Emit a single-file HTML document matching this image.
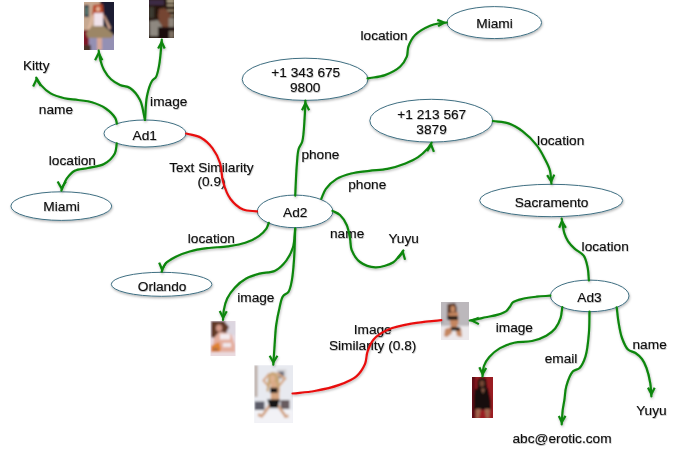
<!DOCTYPE html>
<html><head><meta charset="utf-8"><style>
html,body{margin:0;padding:0;background:#fff;width:691px;height:449px;overflow:hidden}
svg{display:block}
text{font-family:"Liberation Sans",sans-serif;font-size:13.7px;fill:#0a0a0a;stroke:#0a0a0a;stroke-width:0.1px}
</style></head><body>
<svg width="691" height="449" viewBox="0 0 691 449">
<defs>
<filter id="sh" x="-20%" y="-20%" width="140%" height="140%"><feDropShadow dx="0.6" dy="1.4" stdDeviation="0.9" flood-color="#000" flood-opacity="0.28"/></filter>
<filter id="tsh" x="-10%" y="-30%" width="120%" height="160%"><feDropShadow dx="0.5" dy="1" stdDeviation="0.6" flood-color="#000" flood-opacity="0.25"/></filter>
<filter id="pb"><feGaussianBlur stdDeviation="0.8"/></filter>
</defs>
<rect width="691" height="449" fill="#fff"/>

<defs>
<clipPath id="c1"><rect x="84" y="2" width="30" height="48"/></clipPath>
<clipPath id="c2"><rect x="149" y="0" width="25" height="38"/></clipPath>
<clipPath id="c3"><rect x="210.5" y="321" width="25" height="35"/></clipPath>
<clipPath id="c4"><rect x="254.3" y="365.3" width="38.7" height="57.7"/></clipPath>
<clipPath id="c5"><rect x="441" y="302" width="28" height="38"/></clipPath>
<clipPath id="c6"><rect x="472" y="377" width="21" height="41"/></clipPath>
</defs>
<g clip-path="url(#c1)"><g filter="url(#pb)">
<rect x="82" y="0" width="34" height="52" fill="#c6a890"/>
<rect x="100" y="0" width="16" height="41" fill="#1c1e30"/>
<rect x="84" y="5" width="5" height="12" fill="#2a3048"/>
<rect x="85.2" y="7" width="2.8" height="8" fill="#5a7a70"/>
<rect x="82" y="30" width="7.5" height="17" fill="#7e1626"/>
<path d="M89 36 L116 35 L116 52 L89 52Z" fill="#9490b4"/>
<rect x="82" y="45" width="9" height="7" fill="#4a3028"/>
<path d="M93 5 L102.5 4 L104 18 L92 18Z" fill="#b8482a"/>
<ellipse cx="98" cy="9" rx="2" ry="2.6" fill="#e8b89c"/>
<path d="M92 15 L94 15 L90 30 L87.5 29Z" fill="#e2bca4"/>
<path d="M103 15 L105 16 L111 28 L109 30Z" fill="#d8aa92"/>
<rect x="94" y="13" width="9" height="13.5" fill="#f0e2ea"/>
<path d="M92 26 L104 26 L113 34 L112 38 L88 38 L86 33Z" fill="#9c8666"/>
<rect x="97" y="38" width="5" height="12" fill="#d8a898"/>
</g></g>
<g clip-path="url(#c2)"><g filter="url(#pb)">
<rect x="147" y="-2" width="29" height="42" fill="#261610"/>
<rect x="149" y="0" width="15" height="5" fill="#3e2c44"/>
<rect x="149" y="7" width="5" height="11" fill="#3e3a32"/>
<rect x="167" y="0" width="7" height="2" fill="#c4b698"/>
<rect x="167" y="4.2" width="7" height="2" fill="#b0a286"/>
<rect x="167" y="9.5" width="7" height="2" fill="#a49478"/>
<rect x="167" y="14.5" width="7" height="2" fill="#988a70"/>
<path d="M159 9 L165 8 L170 14 L172 24 L167 28 L160 26 L158 16Z" fill="#744432"/>
<path d="M149.5 21 L158 20 L162 26 L162 36 L150 36Z" fill="#8e8880"/>
<rect x="168.5" y="18" width="5.5" height="10" fill="#8e857a"/>
<rect x="158" y="27" width="16" height="11" fill="#1a0c08"/>
<rect x="169" y="31" width="5" height="7" fill="#7c6e60"/>
</g></g>
<g clip-path="url(#c3)"><g filter="url(#pb)">
<rect x="208" y="319" width="30" height="40" fill="#e8dae2"/>
<rect x="226" y="321" width="10" height="14" fill="#dcd6e0"/>
<path d="M211 321 L224 321 L229 327 L226 333 L221 332 L214 338 L211 337Z" fill="#603828"/>
<ellipse cx="219" cy="328" rx="3" ry="3.6" fill="#d49a8a"/>
<path d="M214 338 L219 332 L231 334 L235 345 L235 354 L226 356 L218 352 L213 345Z" fill="#e4ae9e"/>
<rect x="220" y="334" width="10" height="5.5" fill="#f4ecf0"/>
<rect x="223" y="343" width="8" height="4" fill="#f0e8ec"/>
<path d="M211 346 L219 342 L221 349 L217 356 L211 356Z" fill="#e0822e"/>
<rect x="213" y="348" width="5" height="2.5" fill="#a86a48"/>
<rect x="211" y="352" width="25" height="4" fill="#eadade"/>
</g></g>
<g clip-path="url(#c4)"><g filter="url(#pb)">
<rect x="252" y="363" width="43" height="62" fill="#e8eaf0"/>
<rect x="254.3" y="365" width="3.2" height="32" fill="#bcaea6"/>
<rect x="276.8" y="369.2" width="9.7" height="11" fill="#d6d6da"/>
<rect x="278.5" y="371.5" width="5.5" height="6.5" fill="#6c6c78"/>
<path d="M269 387 L263.5 380.5 L269.5 373.5 M279 386 L285 378.5 L276.5 373" fill="none" stroke="#d6a886" stroke-width="2.2"/>
<path d="M268.5 374.5 L271.5 372 L275.5 372.5 L279 378 L280 392 L277.5 392 L275.5 384 L270 384 L268.5 392 L266.5 391Z" fill="#c8a474"/>
<ellipse cx="272.6" cy="378.6" rx="2.5" ry="3.5" fill="#deb090"/>
<rect x="270.5" y="382" width="6" height="6" fill="#daaa88"/>
<rect x="270.8" y="387" width="8.6" height="13.5" fill="#d4a480"/>
<rect x="270" y="387.8" width="7.5" height="5" fill="#161616"/>
<rect x="254.5" y="401.5" width="10" height="9" fill="#5c5c68"/>
<rect x="280.5" y="400" width="9" height="9" fill="#685c5e"/>
<rect x="254" y="410" width="40" height="14" fill="#f2f2f6"/>
<path d="M270 405 L262.5 415.5 M277.5 405 L285 415.5 M258 414.5 L263 416.5 M284 416.5 L288.5 416" fill="none" stroke="#d2a486" stroke-width="3"/>
<path d="M267.2 399.6 L280 399.6 L277.5 408 L270 408Z" fill="#141414"/>
</g></g>
<g clip-path="url(#c5)"><g filter="url(#pb)">
<rect x="439" y="300" width="32" height="42" fill="#bcb8bc"/>
<rect x="439" y="326" width="32" height="16" fill="#ece8eb"/>
<path d="M447.5 304 L455 303 L457 308 L456.5 318 L447 319Z" fill="#5a3826"/>
<ellipse cx="452.8" cy="309" rx="2.2" ry="3.2" fill="#c88a64"/>
<path d="M448 313 L458 312 L458.5 322 L457 327 L451 327 L450 322Z" fill="#c48660"/>
<path d="M445 329 L451 327 L452 333 L447 337 L444 336Z" fill="#c48660"/>
<path d="M455 328 L461 328 L462 337 L457 336Z" fill="#c48660"/>
<rect x="447.5" y="316" width="10.5" height="4" fill="#141414"/>
<rect x="451" y="327" width="9" height="3.5" fill="#141414"/>
</g></g>
<g clip-path="url(#c6)"><g filter="url(#pb)">
<rect x="470" y="375" width="25" height="45" fill="#9a1a22"/>
<rect x="470" y="375" width="5.5" height="45" fill="#5e1016"/>
<path d="M477.5 380 L481 377.5 L486 378.5 L488 393 L477 392Z" fill="#1c1010"/>
<ellipse cx="482" cy="383.5" rx="2.3" ry="3.3" fill="#744634"/>
<path d="M475 389 L488 388 L490.5 400 L491 410 L474 410 L474 398Z" fill="#141010"/>
<path d="M481 388.5 L485 388.5 L483 394Z" fill="#8a5a44"/>
<path d="M476 409 L481 409 L479 418 L476 418Z" fill="#a26650"/>
<path d="M484.5 409 L490 409 L489 418 L486 418Z" fill="#a26650"/>
</g></g>

<g filter="url(#sh)">
<ellipse cx="145" cy="133.5" rx="41" ry="13.5" fill="#fff" stroke="#3f6f82" stroke-width="1"/>
<ellipse cx="61.3" cy="206.1" rx="50.4" ry="14.3" fill="#fff" stroke="#3f6f82" stroke-width="1"/>
<ellipse cx="305.1" cy="79.3" rx="62.9" ry="21.1" fill="#fff" stroke="#3f6f82" stroke-width="1"/>
<ellipse cx="494.3" cy="22.6" rx="47.3" ry="16" fill="#fff" stroke="#3f6f82" stroke-width="1"/>
<ellipse cx="431.3" cy="120.7" rx="61.5" ry="21.4" fill="#fff" stroke="#3f6f82" stroke-width="1"/>
<ellipse cx="551.2" cy="200.5" rx="71.5" ry="16.2" fill="#fff" stroke="#3f6f82" stroke-width="1"/>
<ellipse cx="295.1" cy="211.4" rx="37.8" ry="16.3" fill="#fff" stroke="#3f6f82" stroke-width="1"/>
<ellipse cx="161.6" cy="284.3" rx="50.3" ry="12" fill="#fff" stroke="#3f6f82" stroke-width="1"/>
<ellipse cx="589.7" cy="295.9" rx="39.3" ry="15.8" fill="#fff" stroke="#3f6f82" stroke-width="1"/>
</g>
<g filter="url(#tsh)">
<text x="144.75" y="139.7" text-anchor="middle">Ad1</text>
<text x="61.6" y="211.2" text-anchor="middle">Miami</text>
<text x="305.8" y="77" text-anchor="middle">+1 343 675</text>
<text x="305.2" y="92.3" text-anchor="middle">9800</text>
<text x="494.5" y="28.2" text-anchor="middle">Miami</text>
<text x="431.8" y="118.9" text-anchor="middle">+1 213 567</text>
<text x="431.6" y="134" text-anchor="middle">3879</text>
<text x="551.6" y="207" text-anchor="middle">Sacramento</text>
<text x="295.3" y="216.8" text-anchor="middle">Ad2</text>
<text x="162.1" y="290.7" text-anchor="middle">Orlando</text>
<text x="589.5" y="301.8" text-anchor="middle">Ad3</text>
<text x="22.9" y="70" text-anchor="start">Kitty</text>
<text x="38.8" y="114.4" text-anchor="start">name</text>
<text x="150.1" y="105.7" text-anchor="start">image</text>
<text x="48.8" y="165.1" text-anchor="start">location</text>
<text x="211.5" y="171.5" text-anchor="middle">Text Similarity</text>
<text x="211.5" y="186.3" text-anchor="middle">(0.9)</text>
<text x="360.5" y="40" text-anchor="start">location</text>
<text x="301.4" y="159.3" text-anchor="start">phone</text>
<text x="348.2" y="188.6" text-anchor="start">phone</text>
<text x="537.1" y="144.7" text-anchor="start">location</text>
<text x="187.8" y="242.8" text-anchor="start">location</text>
<text x="330.0" y="238.1" text-anchor="start">name</text>
<text x="388.5" y="243.4" text-anchor="start">Yuyu</text>
<text x="237.2" y="301.8" text-anchor="start">image</text>
<text x="372.7" y="334.4" text-anchor="middle">Image</text>
<text x="372.7" y="350" text-anchor="middle">Similarity (0.8)</text>
<text x="581.6" y="251.2" text-anchor="start">location</text>
<text x="495.7" y="331.6" text-anchor="start">image</text>
<text x="544.7" y="363.2" text-anchor="start">email</text>
<text x="632.5" y="349" text-anchor="start">name</text>
<text x="636.2" y="415.4" text-anchor="start">Yuyu</text>
<text x="512.5" y="442.6" text-anchor="start">abc@erotic.com</text>
</g>
<g filter="url(#sh)" fill="none" stroke-width="2.2" stroke-linecap="round" stroke-linejoin="round">
<path d="M186.10 133.50 C191.07 134.90 196.60 135.25 201.00 137.70 C205.44 140.17 209.45 144.15 212.60 148.30 C215.82 152.55 218.26 157.64 220.00 163.00 C221.88 168.80 221.32 175.95 223.10 182.00 C224.85 187.94 227.00 194.32 230.50 199.00 C233.81 203.42 238.56 207.59 243.20 209.60 C247.46 211.45 252.40 210.73 257.00 211.30" stroke="#e8100f"/>
<path d="M292.50 393.50 C299.87 392.67 307.08 392.35 314.60 391.00 C322.63 389.56 331.86 387.61 339.20 384.90 C345.59 382.54 351.99 380.11 356.40 376.30 C360.30 372.94 363.15 368.30 365.00 364.00 C366.69 360.07 366.12 355.71 367.50 351.70 C368.94 347.50 370.49 342.94 373.60 339.40 C377.14 335.37 382.58 332.07 388.40 329.50 C395.34 326.43 404.46 324.93 413.00 323.40 C422.05 321.77 431.87 321.27 441.30 320.20" stroke="#e8100f"/>
<path d="M116.90 123.60 C116.37 121.77 116.44 120.03 115.30 118.10 C113.54 115.13 109.46 111.10 105.70 108.50 C101.73 105.76 96.59 103.72 91.90 102.30 C87.39 100.93 82.70 100.68 78.10 100.00 C73.53 99.32 68.92 99.27 64.40 98.20 C59.75 97.10 54.60 95.71 50.60 93.40 C46.88 91.25 43.50 87.99 41.00 85.10 C38.91 82.68 37.80 80.10 36.20 77.60" stroke="#0a860a"/>
<path d="M36.40 77.00 L32.15 86.09 L34.14 87.02 L36.71 81.50 L39.99 86.47 L41.83 85.26Z" fill="#0a860a" stroke="none"/>
<path d="M145.00 120.00 C143.33 113.33 142.82 105.56 140.00 100.00 C137.54 95.16 133.74 90.47 130.00 88.00 C126.94 85.98 123.15 86.44 120.00 85.00 C116.82 83.55 113.62 81.72 111.00 79.30 C108.26 76.77 105.76 73.20 104.00 70.00 C102.40 67.09 101.47 64.15 100.60 61.00 C99.68 57.70 99.33 54.07 98.70 50.60" stroke="#0a860a"/>
<path d="M98.70 50.60 L94.10 59.80 L96.07 60.79 L98.70 55.52 L101.33 60.79 L103.30 59.80Z" fill="#0a860a" stroke="none"/>
<path d="M145.00 120.00 C145.67 112.00 145.57 102.99 147.00 96.00 C148.16 90.34 149.98 84.27 152.00 81.00 C153.21 79.05 154.93 78.85 156.00 77.00 C157.52 74.37 158.25 69.73 159.00 66.00 C159.76 62.23 160.06 58.59 160.50 54.50 C161.00 49.86 161.37 44.57 161.80 39.60" stroke="#0a860a"/>
<path d="M161.80 39.60 L157.20 47.98 L159.13 49.04 L161.59 44.47 L163.70 48.91 L165.69 47.98Z" fill="#0a860a" stroke="none"/>
<path d="M116.80 143.30 C116.13 146.67 116.51 150.24 114.80 153.40 C112.73 157.23 108.34 161.57 104.00 164.00 C99.47 166.54 93.10 166.85 88.00 168.00 C83.37 169.05 78.34 168.74 74.70 170.70 C71.37 172.49 68.88 175.54 66.70 178.70 C64.37 182.07 63.17 186.57 61.40 190.50" stroke="#0a860a"/>
<path d="M61.40 190.50 L56.68 182.12 L58.60 181.04 L61.58 186.25 L64.98 180.93 L66.83 182.12Z" fill="#0a860a" stroke="none"/>
<path d="M295.20 195.60 C295.73 185.47 296.08 173.77 296.80 165.20 C297.33 158.89 297.44 153.04 298.70 148.80 C299.57 145.88 301.29 144.93 302.20 141.80 C303.78 136.38 304.06 125.66 304.60 118.40 C305.07 112.10 305.13 106.60 305.40 100.70" stroke="#0a860a"/>
<path d="M305.40 100.70 L301.03 109.79 L303.02 110.74 L305.50 105.62 L308.17 110.80 L310.12 109.79Z" fill="#0a860a" stroke="none"/>
<path d="M321.30 198.80 C322.83 195.47 323.63 191.91 325.90 188.80 C328.52 185.21 332.56 181.44 336.70 178.90 C340.96 176.29 346.02 174.83 351.20 173.50 C356.83 172.05 363.26 171.57 369.30 170.80 C375.33 170.03 381.43 170.10 387.40 168.90 C393.47 167.68 400.00 165.63 405.40 163.50 C410.09 161.65 414.37 159.74 418.10 157.20 C421.57 154.84 424.81 151.68 427.20 149.00 C429.10 146.87 430.20 144.80 431.70 142.70" stroke="#0a860a"/>
<path d="M431.40 142.30 L426.21 150.68 L428.08 151.84 L430.94 147.20 L432.89 152.18 L434.94 151.39Z" fill="#0a860a" stroke="none"/>
<path d="M367.50 78.40 C373.33 77.30 379.54 77.07 385.00 75.10 C390.36 73.17 396.25 70.23 400.00 66.80 C403.16 63.91 405.41 60.22 406.80 56.70 C408.06 53.49 407.22 50.06 408.40 46.70 C409.77 42.83 411.87 38.34 415.10 35.00 C418.80 31.17 425.54 27.64 430.10 25.70 C433.48 24.26 436.54 23.84 439.50 23.30 C442.10 22.83 444.43 22.77 446.90 22.50" stroke="#0a860a"/>
<path d="M446.90 22.50 L437.70 18.84 L436.88 20.89 L441.78 22.78 L437.57 25.18 L438.64 27.10Z" fill="#0a860a" stroke="none"/>
<path d="M492.80 121.00 C498.03 121.80 503.55 121.69 508.50 123.40 C513.52 125.13 518.18 127.98 522.70 131.40 C527.73 135.20 533.12 140.58 537.00 145.60 C540.53 150.16 543.13 155.49 545.40 160.00 C547.30 163.77 549.00 166.88 550.00 170.70 C551.06 174.75 550.93 179.37 551.40 183.70" stroke="#0a860a"/>
<path d="M551.40 183.70 L546.21 175.79 L548.05 174.59 L551.04 179.15 L553.29 174.18 L555.29 175.09Z" fill="#0a860a" stroke="none"/>
<path d="M268.80 222.80 C267.93 224.83 267.54 226.93 266.20 228.90 C264.57 231.30 262.13 233.70 259.20 235.80 C255.51 238.45 250.32 241.07 245.30 242.80 C239.94 244.65 233.98 245.41 227.90 246.30 C221.30 247.26 213.70 247.27 207.10 248.20 C201.02 249.05 195.11 249.99 189.70 251.50 C184.74 252.89 179.99 254.56 175.80 256.70 C171.96 258.66 167.78 260.81 165.40 263.60 C163.39 265.95 162.93 269.00 161.70 271.70" stroke="#0a860a"/>
<path d="M161.70 271.70 L158.16 263.09 L160.19 262.25 L162.25 266.98 L165.40 261.90 L167.25 263.09Z" fill="#0a860a" stroke="none"/>
<path d="M332.50 210.90 C335.00 212.27 337.78 212.97 340.00 215.00 C342.63 217.40 345.05 221.26 346.70 225.00 C348.47 229.00 349.15 234.06 350.00 238.40 C350.78 242.41 350.22 246.35 351.70 250.10 C353.34 254.25 356.22 259.15 360.00 262.00 C364.02 265.03 370.12 267.16 375.50 267.30 C381.23 267.45 389.44 264.60 393.40 262.20 C395.90 260.68 396.86 258.71 398.50 256.80 C400.20 254.82 401.77 252.60 403.40 250.50" stroke="#0a860a"/>
<path d="M403.40 250.00 L397.03 257.55 L398.71 258.97 L402.42 254.57 L404.00 260.05 L406.11 259.44Z" fill="#0a860a" stroke="none"/>
<path d="M295.20 228.50 C294.47 234.77 294.68 241.71 293.00 247.30 C291.51 252.26 289.27 256.71 286.30 260.60 C283.31 264.52 279.49 268.53 275.10 270.70 C270.59 272.93 264.44 272.24 259.50 273.60 C254.83 274.88 250.28 276.21 246.20 278.50 C242.11 280.80 238.19 284.01 235.00 287.40 C231.89 290.70 229.07 294.64 227.20 298.50 C225.47 302.06 224.60 305.93 223.90 309.60 C223.24 313.09 223.30 316.53 223.00 320.00" stroke="#0a860a"/>
<path d="M223.00 320.00 L218.75 311.39 L220.73 310.41 L223.13 315.32 L225.81 310.65 L227.72 311.74Z" fill="#0a860a" stroke="none"/>
<path d="M295.20 228.50 C294.83 238.47 294.74 249.17 294.10 258.40 C293.54 266.39 293.01 274.60 291.80 280.70 C290.93 285.09 290.31 289.10 288.50 291.80 C287.07 293.92 284.33 294.18 282.90 296.30 C281.09 299.00 280.62 303.25 279.60 307.40 C278.34 312.57 277.03 318.92 276.20 325.00 C275.32 331.43 275.09 338.37 274.60 345.00 C274.12 351.56 273.73 358.07 273.30 364.60" stroke="#0a860a"/>
<path d="M273.30 364.60 L268.70 356.34 L270.62 355.27 L273.42 360.25 L276.50 355.19 L278.37 356.34Z" fill="#0a860a" stroke="none"/>
<path d="M588.90 280.30 C588.47 275.97 588.49 271.47 587.60 267.30 C586.73 263.25 585.94 258.75 583.70 255.60 C581.54 252.56 577.28 251.09 574.60 248.60 C572.13 246.30 569.82 243.92 568.10 241.30 C566.47 238.83 565.40 236.51 564.40 233.40 C563.10 229.32 562.60 223.60 561.70 218.70" stroke="#0a860a"/>
<path d="M561.70 218.70 L558.16 227.31 L560.19 228.15 L562.14 223.62 L564.88 228.43 L566.77 227.31Z" fill="#0a860a" stroke="none"/>
<path d="M550.30 295.70 C545.70 296.03 541.08 296.18 536.50 296.70 C531.91 297.22 526.93 297.77 522.80 298.80 C519.24 299.69 515.35 300.51 513.10 302.20 C511.40 303.48 510.86 305.48 509.70 307.00 C508.59 308.44 507.87 309.94 506.30 311.10 C504.26 312.61 501.09 313.62 498.00 314.60 C494.33 315.76 489.47 316.46 485.60 317.30 C482.20 318.04 478.86 318.83 476.00 319.40 C473.71 319.85 471.87 320.13 469.80 320.50" stroke="#0a860a"/>
<path d="M469.30 320.40 L478.39 316.86 L479.18 318.91 L474.62 320.75 L479.40 323.17 L478.39 325.12Z" fill="#0a860a" stroke="none"/>
<path d="M562.30 307.10 C561.73 310.67 561.72 314.32 560.60 317.80 C559.42 321.46 557.62 325.50 555.20 328.50 C552.83 331.44 549.81 333.70 546.30 335.70 C542.25 338.00 537.11 339.82 532.00 341.00 C526.47 342.28 519.72 341.51 514.20 342.80 C509.12 343.98 504.22 345.65 500.00 348.10 C495.96 350.44 492.07 353.77 489.30 357.00 C486.90 359.80 485.03 362.77 483.90 366.00 C482.77 369.23 482.97 372.93 482.50 376.40" stroke="#0a860a"/>
<path d="M482.50 376.40 L478.37 367.67 L480.36 366.73 L482.63 371.68 L485.20 367.39 L487.10 368.49Z" fill="#0a860a" stroke="none"/>
<path d="M589.50 311.60 C589.30 318.80 589.53 325.89 588.90 333.20 C588.24 340.81 587.50 350.12 585.50 356.40 C584.01 361.08 582.11 365.51 579.60 368.00 C577.71 369.88 574.92 369.30 573.00 371.30 C570.14 374.28 567.73 381.23 566.30 386.20 C564.98 390.79 565.05 395.77 564.40 400.00 C563.85 403.61 563.14 406.35 562.70 410.00 C562.18 414.35 562.03 419.60 561.70 424.40" stroke="#0a860a"/>
<path d="M561.70 424.40 L557.81 416.49 L559.78 415.52 L561.94 419.80 L564.53 415.37 L566.42 416.49Z" fill="#0a860a" stroke="none"/>
<path d="M616.70 307.30 C617.30 312.20 617.65 317.02 618.50 322.00 C619.39 327.24 620.26 333.21 622.00 338.00 C623.55 342.26 625.37 346.99 628.00 349.50 C630.10 351.51 633.20 351.46 635.50 353.00 C637.88 354.60 640.20 356.61 642.00 359.00 C643.92 361.55 645.22 364.52 646.50 368.00 C648.11 372.37 649.49 378.45 650.30 383.40 C651.04 387.89 651.03 392.07 651.40 396.40" stroke="#0a860a"/>
<path d="M651.40 396.40 L647.03 388.14 L648.98 387.11 L651.37 391.64 L653.69 387.13 L655.65 388.14Z" fill="#0a860a" stroke="none"/>
</g>
</svg>
</body></html>
